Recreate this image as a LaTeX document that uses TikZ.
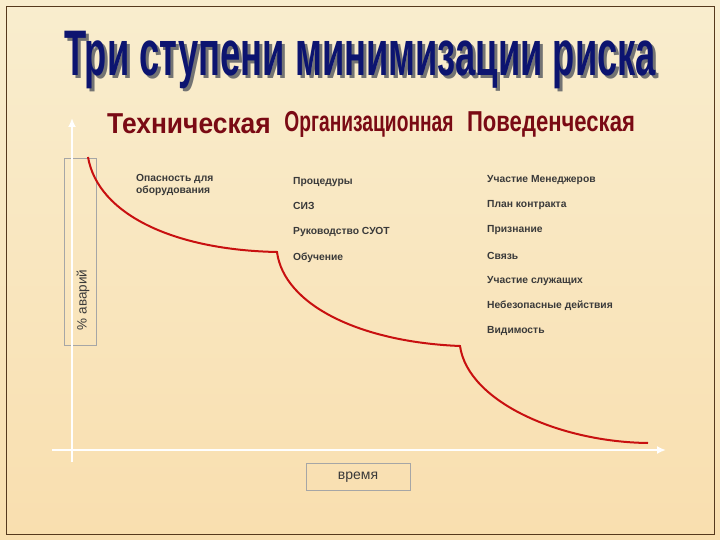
\documentclass[tikz,border=0pt]{standalone}
\usepackage{fontspec}
\setmainfont{Liberation Sans}
\usetikzlibrary{arrows.meta}
\definecolor{bg}{HTML}{F8E9C2}
\definecolor{navy}{HTML}{0C1470}
\definecolor{dred}{HTML}{7A0A14}
\definecolor{txt}{HTML}{3A3A3A}
\definecolor{curve}{HTML}{C81010}
\tikzset{
  item/.style={anchor=west,font=\bfseries\fontsize{10.3}{12}\selectfont,text=txt,inner sep=0pt},
  axis/.style={draw=white,line width=2.5pt,-{Latex[length=9pt,width=8pt]}},
  lbox/.style={draw=black!35,line width=0.4pt},
  sub/.style={font=\bfseries\fontsize{24}{24}\selectfont,text=dred,inner sep=0pt}
}
\begin{document}
\begin{tikzpicture}[x=1pt,y=-1pt]
\useasboundingbox (0,0) rectangle (720,540);
\fill[top color=bg!80!white,bottom color=bg!90!orange] (0,0) rectangle (720,540);
\draw[black!55!brown,line width=0.8pt] (6,6) rectangle (714,534);
% title with shadow
\node (title) [text=navy,font=\bfseries\fontsize{46}{46}\selectfont] at (360,62)
  {\rlap{\kern3pt\raisebox{-3pt}{\textcolor{black!55}{\scalebox{0.79}[1.4]{Три ступени минимизации риска}}}}\scalebox{0.79}[1.4]{Три ступени минимизации риска}};
% subtitles
\node (s1) [sub] at (189,124) {\scalebox{1.1}[1.2]{Техническая}};
\node (s2) [sub] at (369,124) {\scalebox{0.8}[1.2]{Организационная}};
\node (s3) [sub] at (551,124) {\scalebox{0.92}[1.2]{Поведенческая}};
% axis label boxes
\draw[lbox] (64,158) rectangle (96,345);
\node (ylab) [rotate=90,font=\fontsize{13.5}{13.5}\selectfont,text=txt] at (83,300) {\% аварий};
\node (xlab) [draw=black!35,minimum width=104pt,minimum height=27pt,font=\fontsize{14}{14}\selectfont,text=txt] at (358,477) {время};
% axes
\coordinate (o1) at (72,462);
\coordinate (yt) at (72,118);
\coordinate (o2) at (52,450);
\coordinate (xt) at (666,450);
\draw[axis] (o1) -- (yt);
\draw[axis] (o2) -- (xt);
% curve
\coordinate (c0) at (88,157);
\coordinate (c1) at (277,252);
\coordinate (c2) at (460,346);
\coordinate (c3) at (648,443);
\draw[curve,line width=2pt] (c0) .. controls (98,215) and (175,250) .. (c1)
  .. controls (284,305) and (360,342) .. (c2)
  .. controls (468,402) and (560,442) .. (c3);
% items
\node[item,align=left] (a1) at (136,185) {Опасность для\\оборудования};
\node[item] (b1) at (293,182) {Процедуры};
\node[item] (b2) at (293,206) {СИЗ};
\node[item] (b3) at (293,232) {Руководство СУОТ};
\node[item] (b4) at (293,258) {Обучение};
\node[item] (d1) at (487,180) {Участие Менеджеров};
\node[item] (d2) at (487,205) {План контракта};
\node[item] (d3) at (487,230) {Признание};
\node[item] (d4) at (487,256) {Связь};
\node[item] (d5) at (487,281) {Участие служащих};
\node[item] (d6) at (487,306) {Небезопасные действия};
\node[item] (d7) at (487,331) {Видимость};
\end{tikzpicture}
\end{document}
